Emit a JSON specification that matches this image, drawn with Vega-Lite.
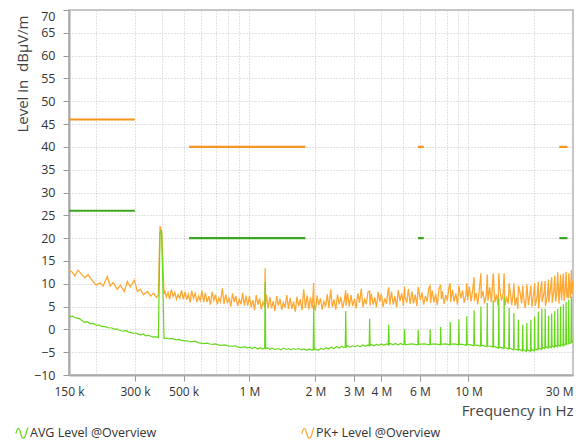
{
"$schema": "https://vega.github.io/schema/vega-lite/v6.json",
"width": 504, "height": 365,
"autosize": {"type": "none"},
"padding": {"left": 69, "top": 10, "right": 10, "bottom": 69},
"background": "white",
"config": {"font": "Open Sans", "view": {"stroke": "#b4b4b4", "strokeWidth": 1.5}},
"datasets": {
"lim": [
{"d":"PK","f":0.15,"f2":0.3,"v":46},{"d":"PK","f":0.53,"f2":1.8,"v":40},{"d":"PK","f":5.88,"f2":6.25,"v":40},{"d":"PK","f":26.0,"f2":28.3,"v":40},
{"d":"AVG","f":0.15,"f2":0.3,"v":26},{"d":"AVG","f":0.53,"f2":1.8,"v":20},{"d":"AVG","f":5.88,"f2":6.25,"v":20},{"d":"AVG","f":26.0,"f2":28.3,"v":20}
],
"avg": [
{"f":0.15,"v":2.9},{"f":0.153,"v":2.8},{"f":0.156,"v":2.9},{"f":0.159,"v":2.6},{"f":0.162,"v":2.5},{"f":0.165,"v":2.4},{"f":0.168,"v":2.3},{"f":0.171,"v":2.0},{"f":0.174,"v":1.8},{"f":0.177,"v":1.5},{"f":0.18,"v":1.7},{"f":0.183,"v":1.6},{"f":0.186,"v":1.3},{"f":0.19,"v":1.2},{"f":0.194,"v":1.3},{"f":0.198,"v":1.0},{"f":0.202,"v":0.9},{"f":0.206,"v":1.0},{"f":0.21,"v":0.7},{"f":0.215,"v":0.6},{"f":0.22,"v":0.6},{"f":0.225,"v":0.4},{"f":0.23,"v":0.3},{"f":0.236,"v":0.3},{"f":0.242,"v":0.0},{"f":0.248,"v":0.1},{"f":0.254,"v":-0.2},{"f":0.26,"v":-0.3},{"f":0.267,"v":-0.4},{"f":0.274,"v":-0.3},{"f":0.281,"v":-0.6},{"f":0.288,"v":-0.7},{"f":0.296,"v":-0.9},{"f":0.304,"v":-0.8},{"f":0.312,"v":-1.1},{"f":0.32,"v":-1.2},{"f":0.328,"v":-1.0},{"f":0.336,"v":-1.4},{"f":0.345,"v":-1.3},{"f":0.354,"v":-1.5},{"f":0.363,"v":-1.7},{"f":0.372,"v":-1.6},{"f":0.3837,"v":-1.8},{"f":0.3905,"v":21.2},{"f":0.394,"v":21.5},{"f":0.3975,"v":20.8},{"f":0.4074,"v":-2.0},
{"f":0.415,"v":-1.9},{"f":0.425,"v":-2.0},{"f":0.435,"v":-2.1},{"f":0.445,"v":-2.0},{"f":0.455,"v":-2.2},{"f":0.465,"v":-2.3},{"f":0.475,"v":-2.2},{"f":0.49,"v":-2.4},{"f":0.505,"v":-2.5},{"f":0.52,"v":-2.5},{"f":0.535,"v":-2.7},{"f":0.55,"v":-2.7},{"f":0.565,"v":-2.6},{"f":0.58,"v":-2.9},{"f":0.6,"v":-3.0},{"f":0.62,"v":-3.1},{"f":0.64,"v":-3.0},{"f":0.66,"v":-3.2},{"f":0.68,"v":-3.3},{"f":0.7,"v":-3.2},{"f":0.72,"v":-3.4},{"f":0.74,"v":-3.5},{"f":0.77,"v":-3.4},{"f":0.8,"v":-3.6},{"f":0.83,"v":-3.7},{"f":0.86,"v":-3.6},{"f":0.89,"v":-3.9},{"f":0.92,"v":-4.0},{"f":0.95,"v":-3.8},{"f":0.98,"v":-4.1},
{"f":1.0,"v":-3.9},{"f":1.03,"v":-4.2},{"f":1.06,"v":-3.9},{"f":1.09,"v":-4.3},{"f":1.12,"v":-4.0},{"f":1.15,"v":-4.3},{"f":1.173,"v":-4.1},{"f":1.179,"v":10.4},{"f":1.186,"v":-4.2},{"f":1.21,"v":-4.0},{"f":1.24,"v":-4.4},{"f":1.27,"v":-4.1},{"f":1.31,"v":-4.4},{"f":1.35,"v":-4.2},{"f":1.39,"v":-4.5},{"f":1.43,"v":-4.1},{"f":1.47,"v":-4.4},{"f":1.51,"v":-4.2},{"f":1.55,"v":-4.5},{"f":1.59,"v":-4.2},{"f":1.63,"v":-4.4},{"f":1.68,"v":-4.2},{"f":1.73,"v":-4.5},{"f":1.78,"v":-4.3},{"f":1.83,"v":-4.6},{"f":1.88,"v":-4.3},{"f":1.93,"v":-4.6},{"f":1.955,"v":-4.4},{"f":1.965,"v":5.3},{"f":1.975,"v":-4.5},{"f":2.0,"v":-4.3},{"f":2.06,"v":-4.6},{"f":2.12,"v":-4.2},{"f":2.18,"v":-4.4},{"f":2.24,"v":-4.0},{"f":2.3,"v":-4.3},{"f":2.36,"v":-3.9},{"f":2.43,"v":-4.2},{"f":2.5,"v":-3.8},{"f":2.57,"v":-4.1},{"f":2.64,"v":-3.7},{"f":2.7,"v":-4.0},{"f":2.737,"v":-3.8},{"f":2.751,"v":4.0},{"f":2.765,"v":-3.9},{"f":2.8,"v":-3.6},{"f":2.88,"v":-3.9},{"f":2.96,"v":-3.6},{"f":3.04,"v":-3.8},{"f":3.12,"v":-3.5},{"f":3.2,"v":-3.8},{"f":3.29,"v":-3.4},{"f":3.38,"v":-3.7},{"f":3.47,"v":-3.4},{"f":3.519,"v":-3.6},{"f":3.537,"v":2.3},{"f":3.555,"v":-3.5},{"f":3.6,"v":-3.3},{"f":3.7,"v":-3.6},{"f":3.8,"v":-3.3},{"f":3.9,"v":-3.5},{"f":4.0,"v":-3.2},{"f":4.11,"v":-3.5},{"f":4.22,"v":-3.2},{"f":4.3,"v":-3.4},{"f":4.323,"v":1.0},{"f":4.346,"v":-3.3},{"f":4.4,"v":-3.1},{"f":4.52,"v":-3.4},{"f":4.64,"v":-3.1},{"f":4.77,"v":-3.4},{"f":4.9,"v":-3.1},{"f":5.03,"v":-3.4},{"f":5.082,"v":-3.2},{"f":5.109,"v":0.0},{"f":5.136,"v":-3.4},
{"f":5.5,"v":-3.2},{"f":5.871,"v":-3.4},{"f":5.895,"v":-0.1},{"f":5.919,"v":-3.3},{"f":6.288,"v":-3.2},{"f":6.654,"v":-3.4},{"f":6.681,"v":0.0},{"f":6.708,"v":-3.3},{"f":7.074,"v":-3.2},{"f":7.437,"v":-3.4},{"f":7.467,"v":0.6},{"f":7.497,"v":-3.3},{"f":7.86,"v":-3.2},{"f":8.22,"v":-3.4},{"f":8.253,"v":1.6},{"f":8.286,"v":-3.3},{"f":8.646,"v":-3.2},{"f":9.003,"v":-3.4},{"f":9.039,"v":2.2},{"f":9.075,"v":-3.3},{"f":9.432,"v":-3.3},{"f":9.786,"v":-3.5},{"f":9.825,"v":2.9},{"f":9.864,"v":-3.3},{"f":10.218,"v":-3.4},{"f":10.569,"v":-3.6},{"f":10.611,"v":4.2},{"f":10.653,"v":-3.4},{"f":11.004,"v":-3.5},{"f":11.351,"v":-3.7},{"f":11.397,"v":5.0},{"f":11.443,"v":-3.5},{"f":11.79,"v":-3.6},{"f":12.134,"v":-3.8},{"f":12.183,"v":5.8},{"f":12.232,"v":-3.6},{"f":12.576,"v":-3.7},{"f":12.917,"v":-3.9},{"f":12.969,"v":6.4},{"f":13.021,"v":-3.7},{"f":13.362,"v":-3.9},{"f":13.7,"v":-4.1},{"f":13.755,"v":6.8},{"f":13.81,"v":-3.9},{"f":14.148,"v":-4.0},{"f":14.483,"v":-4.2},{"f":14.541,"v":7.2},{"f":14.599,"v":-4.0},{"f":14.934,"v":-4.1},{"f":15.266,"v":-4.3},{"f":15.327,"v":4.7},{"f":15.388,"v":-4.1},{"f":15.72,"v":-4.3},{"f":16.049,"v":-4.5},{"f":16.113,"v":3.6},{"f":16.177,"v":-4.3},{"f":16.506,"v":-4.4},{"f":16.831,"v":-4.6},{"f":16.899,"v":2.1},{"f":16.967,"v":-4.4},{"f":17.292,"v":-4.5},{"f":17.614,"v":-4.7},{"f":17.685,"v":1.0},{"f":17.756,"v":-4.5},{"f":18.078,"v":-4.6},{"f":18.397,"v":-4.8},{"f":18.471,"v":1.4},{"f":18.545,"v":-4.6},{"f":18.864,"v":-4.6},{"f":19.18,"v":-4.8},{"f":19.257,"v":2.1},{"f":19.334,"v":-4.6},{"f":19.65,"v":-4.5},{"f":19.963,"v":-4.7},{"f":20.043,"v":2.8},{"f":20.123,"v":-4.5},{"f":20.436,"v":-4.4},{"f":20.746,"v":-4.5},{"f":20.829,"v":3.9},{"f":20.912,"v":-4.3},{"f":21.222,"v":-4.2},{"f":21.529,"v":-4.4},{"f":21.615,"v":4.6},{"f":21.701,"v":-4.2},{"f":22.008,"v":-4.0},{"f":22.311,"v":-4.2},{"f":22.401,"v":4.6},{"f":22.491,"v":-4.0},{"f":22.794,"v":-3.9},{"f":23.094,"v":-4.1},{"f":23.187,"v":3.0},{"f":23.28,"v":-3.9},{"f":23.58,"v":-3.8},{"f":23.877,"v":-4.0},{"f":23.973,"v":3.5},{"f":24.069,"v":-3.8},{"f":24.366,"v":-3.7},{"f":24.66,"v":-3.9},{"f":24.759,"v":4.0},{"f":24.858,"v":-3.7},{"f":25.152,"v":-3.6},{"f":25.443,"v":-3.8},{"f":25.545,"v":4.5},{"f":25.647,"v":-3.6},{"f":25.938,"v":-3.5},{"f":26.226,"v":-3.7},{"f":26.331,"v":5.0},{"f":26.436,"v":-3.5},{"f":26.724,"v":-3.4},{"f":27.009,"v":-3.6},{"f":27.117,"v":5.5},{"f":27.225,"v":-3.4},{"f":27.51,"v":-3.3},{"f":27.791,"v":-3.4},{"f":27.903,"v":6.0},{"f":28.015,"v":-3.2},{"f":28.296,"v":-3.2},{"f":28.574,"v":-3.2},{"f":28.689,"v":6.5},{"f":28.804,"v":-3.0},{"f":29.082,"v":-3.0},{"f":29.357,"v":-3.0},{"f":29.475,"v":7.2},{"f":29.593,"v":-2.8},{"f":29.85,"v":-2.7},{"f":30.0,"v":-2.5}
],
"pk": [
{"f":0.15,"v":13.0},{"f":0.1548,"v":12.6},{"f":0.1597,"v":11.7},{"f":0.1648,"v":13.0},{"f":0.1719,"v":12.0},{"f":0.1774,"v":11.3},{"f":0.1831,"v":12.0},{"f":0.191,"v":10.8},{"f":0.1994,"v":9.7},{"f":0.2081,"v":10.2},{"f":0.2148,"v":9.5},{"f":0.2242,"v":11.6},{"f":0.2313,"v":9.5},{"f":0.2387,"v":10.3},{"f":0.2491,"v":8.8},{"f":0.2571,"v":9.7},{"f":0.2683,"v":8.3},{"f":0.2769,"v":10.5},{"f":0.2858,"v":9.3},{"f":0.2982,"v":10.8},{"f":0.3078,"v":8.3},{"f":0.3177,"v":8.8},{"f":0.3279,"v":7.6},{"f":0.3422,"v":8.3},{"f":0.3532,"v":7.3},{"f":0.3645,"v":7.9},{"f":0.3762,"v":7.0},{"f":0.3837,"v":7.5},{"f":0.3905,"v":22.6},{"f":0.394,"v":22.0},{"f":0.3975,"v":21.5},{"f":0.4074,"v":7.8},
{"f":0.41,"v":8.6},{"f":0.417,"v":7.1},{"f":0.425,"v":8.1},{"f":0.432,"v":6.6},{"f":0.44,"v":8.7},{"f":0.448,"v":7.2},{"f":0.456,"v":8.1},{"f":0.464,"v":6.6},{"f":0.472,"v":7.6},{"f":0.481,"v":6.8},{"f":0.49,"v":8.6},{"f":0.499,"v":6.6},{"f":0.508,"v":8.2},{"f":0.517,"v":6.5},{"f":0.526,"v":7.7},{"f":0.536,"v":5.9},{"f":0.545,"v":8.5},{"f":0.555,"v":6.8},{"f":0.565,"v":7.9},{"f":0.575,"v":6.0},{"f":0.586,"v":7.3},{"f":0.596,"v":6.3},{"f":0.607,"v":8.5},{"f":0.618,"v":6.0},{"f":0.629,"v":8.0},{"f":0.64,"v":6.0},{"f":0.652,"v":7.3},{"f":0.663,"v":5.4},{"f":0.675,"v":8.2},{"f":0.688,"v":6.4},{"f":0.7,"v":7.6},{"f":0.713,"v":5.5},{"f":0.725,"v":6.9},{"f":0.738,"v":6.0},{"f":0.752,"v":9.0},{"f":0.765,"v":5.6},{"f":0.779,"v":7.7},{"f":0.793,"v":5.7},{"f":0.807,"v":7.0},{"f":0.822,"v":5.0},{"f":0.837,"v":7.9},{"f":0.852,"v":6.0},{"f":0.867,"v":7.3},{"f":0.883,"v":5.1},{"f":0.898,"v":6.6},{"f":0.915,"v":5.5},{"f":0.931,"v":8.0},{"f":0.948,"v":5.2},{"f":0.965,"v":7.4},{"f":0.982,"v":5.2},
{"f":1.0,"v":7.3},{"f":1.018,"v":4.8},{"f":1.036,"v":6.4},{"f":1.055,"v":4.2},{"f":1.074,"v":7.5},{"f":1.093,"v":5.4},{"f":1.113,"v":6.8},{"f":1.133,"v":4.4},{"f":1.153,"v":6.0},{"f":1.174,"v":4.9},{"f":1.179,"v":13.4},{"f":1.184,"v":5.5},{"f":1.195,"v":7.6},{"f":1.217,"v":4.6},{"f":1.239,"v":7.1},{"f":1.261,"v":4.6},{"f":1.284,"v":6.2},{"f":1.307,"v":4.0},{"f":1.33,"v":7.3},{"f":1.354,"v":5.2},{"f":1.379,"v":6.7},{"f":1.403,"v":4.3},{"f":1.429,"v":5.9},{"f":1.454,"v":4.8},{"f":1.48,"v":7.5},{"f":1.507,"v":4.5},{"f":1.534,"v":6.9},{"f":1.562,"v":4.5},{"f":1.59,"v":6.1},{"f":1.619,"v":3.9},{"f":1.648,"v":7.2},{"f":1.677,"v":5.1},{"f":1.707,"v":6.6},{"f":1.738,"v":4.2},{"f":1.769,"v":8.8},{"f":1.801,"v":4.7},{"f":1.834,"v":7.4},{"f":1.867,"v":4.4},{"f":1.9,"v":7.0},{"f":1.934,"v":4.6},{"f":1.965,"v":10.2},{"f":1.969,"v":6.2},
{"f":2.0,"v":4.1},{"f":2.036,"v":7.4},{"f":2.072,"v":5.3},{"f":2.11,"v":6.8},{"f":2.148,"v":4.4},{"f":2.186,"v":6.1},{"f":2.226,"v":5.0},{"f":2.266,"v":7.7},{"f":2.306,"v":4.7},{"f":2.348,"v":8.8},{"f":2.39,"v":4.9},{"f":2.434,"v":6.5},{"f":2.478,"v":4.3},{"f":2.522,"v":7.6},{"f":2.568,"v":5.5},{"f":2.614,"v":7.1},{"f":2.66,"v":4.7},{"f":2.708,"v":6.3},{"f":2.751,"v":8.6},{"f":2.758,"v":5.2},{"f":2.806,"v":7.9},{"f":2.858,"v":5.0},{"f":2.908,"v":7.5},{"f":2.96,"v":5.1},{"f":3.014,"v":6.7},{"f":3.068,"v":4.6},{"f":3.124,"v":7.9},{"f":3.18,"v":5.8},{"f":3.238,"v":8.9},{"f":3.296,"v":4.9},{"f":3.354,"v":6.6},{"f":3.414,"v":5.5},{"f":3.476,"v":8.2},{"f":3.537,"v":8.4},{"f":3.55,"v":5.2},{"f":3.602,"v":7.8},{"f":3.668,"v":5.4},{"f":3.734,"v":7.0},{"f":3.8,"v":4.8},{"f":3.868,"v":8.2},{"f":3.938,"v":6.1},
{"f":4.0,"v":7.8},{"f":4.072,"v":4.9},{"f":4.144,"v":6.8},{"f":4.22,"v":5.6},{"f":4.296,"v":8.7},{"f":4.323,"v":9.2},{"f":4.372,"v":5.4},{"f":4.452,"v":8.3},{"f":4.532,"v":5.4},{"f":4.612,"v":7.3},{"f":4.696,"v":4.8},{"f":4.78,"v":8.6},{"f":4.868,"v":6.2},{"f":4.956,"v":7.9},{"f":5.044,"v":5.2},{"f":5.109,"v":9.4},{"f":5.136,"v":7.0},{"f":5.228,"v":5.9},{"f":5.32,"v":8.9},{"f":5.416,"v":5.6},{"f":5.516,"v":8.3},{"f":5.612,"v":5.7},{"f":5.716,"v":7.6},{"f":5.816,"v":5.1},{"f":5.895,"v":9.3},{"f":5.92,"v":8.8},{"f":6.028,"v":6.4},{"f":6.136,"v":8.1},{"f":6.248,"v":5.4},{"f":6.36,"v":7.3},{"f":6.476,"v":6.1},{"f":6.592,"v":9.1},{"f":6.681,"v":9.6},{"f":6.708,"v":5.8},{"f":6.828,"v":8.5},{"f":6.952,"v":5.9},{"f":7.076,"v":7.8},{"f":7.204,"v":5.3},{"f":7.336,"v":9.0},{"f":7.467,"v":9.8},{"f":7.52,"v":6.6},{"f":7.6,"v":8.3},{"f":7.736,"v":5.6},{"f":7.876,"v":7.5},
{"f":8.0,"v":6.3},{"f":8.144,"v":9.3},{"f":8.253,"v":10.1},{"f":8.288,"v":6.0},{"f":8.44,"v":8.7},{"f":8.592,"v":6.1},{"f":8.744,"v":7.9},{"f":8.904,"v":5.4},{"f":9.039,"v":9.6},{"f":9.064,"v":9.2},{"f":9.224,"v":6.8},{"f":9.392,"v":8.5},{"f":9.56,"v":5.8},{"f":9.736,"v":7.6},{"f":9.825,"v":10.1},{"f":9.912,"v":6.4},{"f":10.088,"v":9.4},{"f":10.272,"v":6.1},{"f":10.456,"v":8.8},{"f":10.611,"v":11.4},{"f":10.64,"v":6.2},{"f":10.832,"v":8.0},{"f":11.032,"v":5.5},{"f":11.224,"v":9.2},{"f":11.397,"v":12.3},{"f":11.432,"v":6.8},{"f":11.632,"v":8.4},{"f":11.84,"v":5.7},{"f":12.056,"v":7.5},{"f":12.183,"v":12.0},{"f":12.272,"v":6.3},{"f":12.496,"v":9.2},{"f":12.72,"v":5.9},{"f":12.969,"v":12.3},{"f":13.184,"v":5.9},{"f":13.416,"v":7.6},{"f":13.656,"v":5.1},{"f":13.755,"v":12.3},{"f":13.904,"v":8.7},{"f":14.152,"v":6.3},{"f":14.408,"v":7.9},{"f":14.541,"v":12.3},{"f":14.672,"v":5.2},{"f":14.936,"v":6.9},{"f":15.2,"v":5.7},{"f":15.327,"v":10.1},{"f":15.472,"v":8.6},{"f":15.752,"v":5.3},
{"f":16.0,"v":7.9},{"f":16.113,"v":10.1},{"f":16.288,"v":5.2},{"f":16.576,"v":7.0},{"f":16.8,"v":4.5},{"f":16.899,"v":9.6},{"f":17.184,"v":8.1},{"f":17.488,"v":5.7},{"f":17.685,"v":9.6},{"f":17.808,"v":7.4},{"f":18.128,"v":4.7},{"f":18.3,"v":6.5},{"f":18.471,"v":9.9},{"f":18.784,"v":5.3},{"f":19.12,"v":8.3},{"f":19.257,"v":9.6},{"f":19.472,"v":5.0},{"f":19.824,"v":7.7},{"f":20.043,"v":10.1},{"f":20.176,"v":5.2},{"f":20.544,"v":7.0},{"f":20.829,"v":10.4},{"f":20.912,"v":4.6},{"f":21.28,"v":8.3},{"f":21.615,"v":10.6},{"f":21.664,"v":6.0},{"f":22.064,"v":7.7},{"f":22.401,"v":10.6},{"f":22.448,"v":5.1},{"f":22.864,"v":7.0},{"f":23.187,"v":10.9},{"f":23.264,"v":5.9},{"f":23.68,"v":9.0},{"f":23.973,"v":11.4},{"f":24.112,"v":5.8},{"f":24.544,"v":8.6},{"f":24.759,"v":11.8},{"f":24.992,"v":6.1},{"f":25.3,"v":8.0},{"f":25.545,"v":12.5},{"f":25.904,"v":5.6},{"f":26.1,"v":8.4},{"f":26.331,"v":12.0},{"f":26.6,"v":6.4},{"f":26.832,"v":9.2},{"f":27.117,"v":12.3},{"f":27.312,"v":6.2},{"f":27.6,"v":8.1},{"f":27.903,"v":12.6},{"f":28.15,"v":7.0},{"f":28.4,"v":9.0},{"f":28.55,"v":6.8},{"f":28.689,"v":12.3},{"f":28.95,"v":10.0},{"f":29.15,"v":6.9},{"f":29.344,"v":9.4},{"f":29.475,"v":13.0},{"f":29.7,"v":7.6},{"f":29.872,"v":10.6},{"f":30.0,"v":9.5}
]
},
"encoding": {
"x": {"field": "f", "type": "quantitative",
 "scale": {"type": "log", "domain": [0.15, 30], "nice": false, "zero": false},
 "axis": {
  "values": [0.15,0.2,0.3,0.4,0.5,0.6,0.7,0.8,0.9,1,2,3,4,5,6,7,8,9,10,20,30],
  "labelExpr": "indexof([0.15,0.3,0.5,1,2,3,4,6,10,30], datum.value) >= 0 ? (datum.value < 1 ? format(datum.value*1000,'d') + ' k' : format(datum.value,'d') + ' M') : ''",
  "tickOpacity": {"condition": {"test": "indexof([0.3,0.5,1,2,3,4,6,10], datum.value) >= 0", "value": 1}, "value": 0},
  "labelAlign": {"condition": {"test": "datum.value == 30", "value": "right"}, "value": "center"},
  "grid": true, "gridDash": [1, 2], "gridColor": "#c4c4c4", "gridWidth": 1,
  "domainColor": "#aaaaaa", "domainWidth": 2,
  "tickColor": "#999999", "tickSize": 6, "tickWidth": 1,
  "labelFontSize": 12, "labelColor": "#333333", "labelPadding": 5, "labelOverlap": false,
  "title": "Frequency in Hz", "titleX": 504, "titleY": 40, "titleAlign": "right", "titleAnchor": "end",
  "titleBaseline": "alphabetic", "titleFontSize": 15, "titleFontWeight": "normal", "titleColor": "#444444"
 }},
"y": {"field": "v", "type": "quantitative",
 "scale": {"domain": [-10, 70], "nice": false, "zero": false},
 "axis": {
  "values": [-10,-5,0,5,10,15,20,25,30,35,40,45,50,55,60,65,70],
  "labelBaseline": {"condition": {"test": "datum.value == 70", "value": "top"}, "value": "middle"},
  "grid": true, "gridDash": [1, 2], "gridColor": "#c4c4c4", "gridWidth": 1,
  "domainColor": "#aaaaaa", "domainWidth": 2,
  "tickColor": "#999999", "tickSize": 6, "tickWidth": 1,
  "labelFontSize": 12.5, "labelColor": "#333333", "labelPadding": 8, "labelOverlap": false,
  "title": "Level in \u00a0dBµV/m", "titleX": -42, "titleY": 5, "titleAngle": -90, "titleAlign": "right",
  "titleBaseline": "alphabetic", "titleFontSize": 15, "titleFontWeight": "normal", "titleColor": "#444444"
 }}
},
"layer": [
{
"data": {"name": "pk"},
"mark": {"type": "line", "strokeWidth": 1.3, "interpolate": "linear"},
"encoding": {
"color": {"datum": "PK+ Level @Overview", "type": "nominal",
 "scale": {"domain": ["AVG Level @Overview", "PK+ Level @Overview"], "range": ["#66d81a", "#ffa833"]},
 "legend": {"orient": "none", "legendX": -54, "legendY": 416, "direction": "horizontal", "title": null,
  "symbolType": "M-1,0.1C-0.75,-1 -0.45,-1 -0.2,0.1C0.05,1.1 0.4,1.1 0.65,0.1C0.8,-0.5 0.9,-0.8 1,-0.9",
  "symbolSize": 150, "symbolStrokeWidth": 1.3, "labelFontSize": 12.5, "labelColor": "#333333",
  "columnPadding": 142, "labelOffset": 1, "padding": 0}}
}
},
{
"data": {"name": "avg"},
"mark": {"type": "line", "strokeWidth": 1.2, "interpolate": "linear"},
"encoding": {
"color": {"datum": "AVG Level @Overview", "type": "nominal"}
}
},
{
"data": {"name": "lim"},
"transform": [{"filter": "datum.d == 'PK'"}],
"mark": {"type": "rule", "color": "#f7941d", "strokeWidth": 2.2},
"encoding": {"x2": {"field": "f2"}}
},
{
"data": {"name": "lim"},
"transform": [{"filter": "datum.d == 'AVG'"}],
"mark": {"type": "rule", "color": "#3da621", "strokeWidth": 2.2},
"encoding": {"x2": {"field": "f2"}}
}
]
}
